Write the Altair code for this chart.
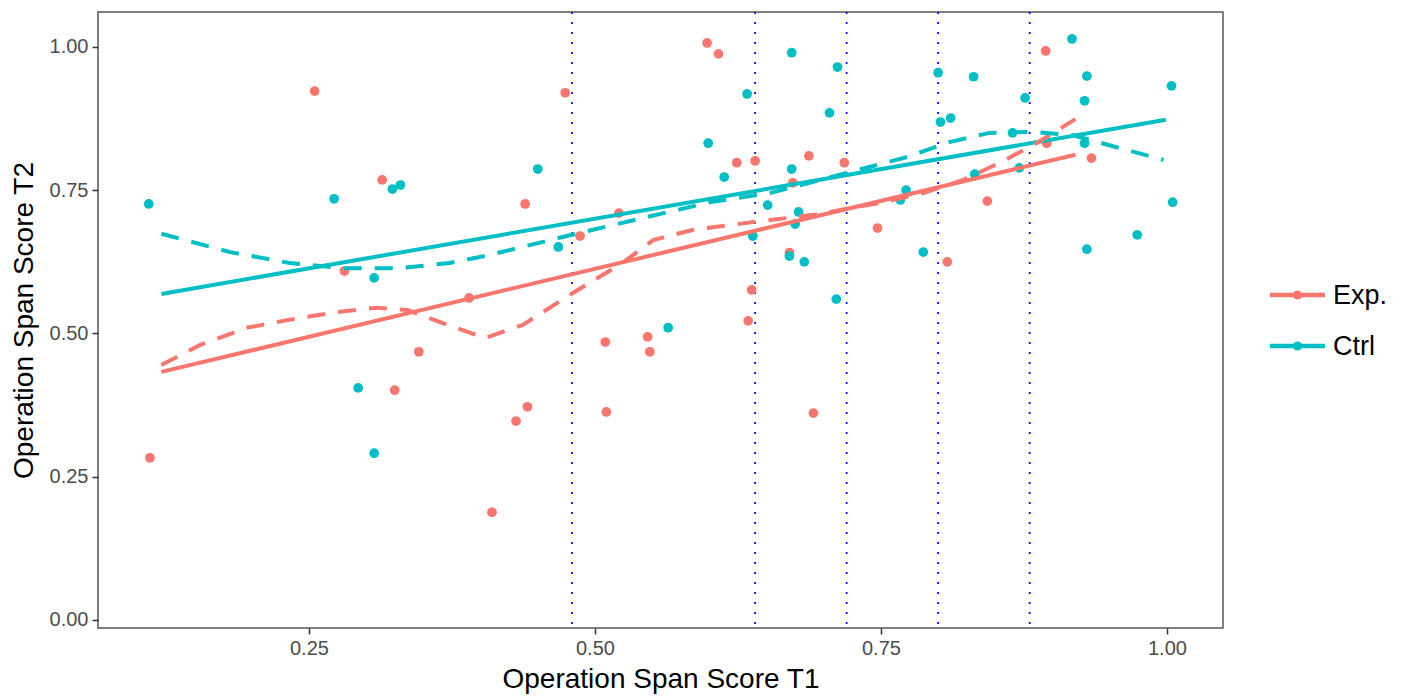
import altair as alt
import pandas as pd

# Group labels and colours
groups = ["Exp.", "Ctrl"]
colors = ["#F8766D", "#00BFC4"]

# Experimental group scores (T1, T2)
exp_t1 = [0.111, 0.255, 0.281, 0.314, 0.325, 0.346, 0.390, 0.410, 0.431, 0.441,
          0.439, 0.474, 0.487, 0.509, 0.510, 0.521, 0.546, 0.548, 0.598, 0.608,
          0.624, 0.640, 0.637, 0.634, 0.673, 0.670, 0.687, 0.691, 0.718, 0.747,
          0.808, 0.843, 0.894, 0.895, 0.934]
exp_t2 = [0.283, 0.923, 0.609, 0.768, 0.401, 0.468, 0.562, 0.188, 0.347, 0.372,
          0.726, 0.920, 0.670, 0.485, 0.363, 0.710, 0.494, 0.468, 1.007, 0.988,
          0.798, 0.801, 0.576, 0.522, 0.763, 0.641, 0.810, 0.361, 0.798, 0.684,
          0.625, 0.731, 0.993, 0.832, 0.806]

# Control group scores (T1, T2)
ctrl_t1 = [0.110, 0.272, 0.323, 0.330, 0.307, 0.293, 0.307, 0.450, 0.468, 0.564,
           0.599, 0.613, 0.633, 0.638, 0.651, 0.672, 0.672, 0.678, 0.675, 0.670,
           0.683, 0.705, 0.712, 0.711, 0.800, 0.802, 0.811, 0.831, 0.832, 0.772,
           0.767, 0.787, 0.865, 0.871, 0.876, 0.917, 0.930, 0.928, 0.928, 0.930,
           0.974, 1.004, 1.005]
ctrl_t2 = [0.726, 0.735, 0.752, 0.759, 0.597, 0.405, 0.291, 0.787, 0.651, 0.510,
           0.832, 0.773, 0.918, 0.670, 0.724, 0.990, 0.787, 0.712, 0.691, 0.635,
           0.625, 0.885, 0.965, 0.560, 0.955, 0.869, 0.876, 0.948, 0.778, 0.750,
           0.733, 0.642, 0.850, 0.789, 0.911, 1.014, 0.949, 0.906, 0.832, 0.647,
           0.672, 0.932, 0.729]

# Linear fits (end points)
exp_fit_x = [0.121, 0.920]
exp_fit_y = [0.433, 0.812]
ctrl_fit_x = [0.121, 0.999]
ctrl_fit_y = [0.569, 0.873]

# Local (loess) smooths
exp_smooth_x = [0.121, 0.155, 0.196, 0.233, 0.277, 0.309, 0.336, 0.371, 0.404, 0.437,
                0.481, 0.524, 0.551, 0.586, 0.633, 0.691, 0.752, 0.787, 0.822, 0.854,
                0.886, 0.920]
exp_smooth_y = [0.445, 0.480, 0.510, 0.524, 0.538, 0.545, 0.541, 0.515, 0.492, 0.515,
                0.571, 0.623, 0.663, 0.681, 0.693, 0.707, 0.729, 0.745, 0.768, 0.798,
                0.832, 0.874]
ctrl_smooth_x = [0.121, 0.181, 0.233, 0.280, 0.330, 0.373, 0.408, 0.469, 0.545, 0.603,
                 0.653, 0.720, 0.773, 0.810, 0.845, 0.883, 0.918, 0.956, 0.997]
ctrl_smooth_y = [0.674, 0.642, 0.623, 0.614, 0.614, 0.623, 0.637, 0.667, 0.703, 0.730,
                 0.745, 0.780, 0.808, 0.834, 0.850, 0.852, 0.846, 0.825, 0.803]

# Cut points marked with vertical dotted lines
cuts = [0.48, 0.64, 0.72, 0.80, 0.88]

x_ticks = [0.25, 0.50, 0.75, 1.00]
y_ticks = [0.00, 0.25, 0.50, 0.75, 1.00]

FONT = "Liberation Sans"
W, H = 1125, 616
PAD_L, PAD_T = 98, 12


def frame(xs, ys, g):
    return pd.DataFrame({"t1": xs, "t2": ys, "group": g})


pts = pd.concat([frame(exp_t1, exp_t2, groups[0]), frame(ctrl_t1, ctrl_t2, groups[1])])
fits = pd.concat([frame(exp_fit_x, exp_fit_y, groups[0]), frame(ctrl_fit_x, ctrl_fit_y, groups[1])])
smooths = pd.concat([frame(exp_smooth_x, exp_smooth_y, groups[0]),
                     frame(ctrl_smooth_x, ctrl_smooth_y, groups[1])])
cut_df = pd.DataFrame({"cut": cuts})

xscale = alt.Scale(domain=[0.0656, 1.049], nice=False, zero=False)
yscale = alt.Scale(domain=[-0.014, 1.061], nice=False, zero=False)
cscale = alt.Scale(domain=groups, range=colors)

axis_common = dict(grid=False, domain=False, format=".2f", tickColor="#333333",
                   tickSize=6, tickWidth=1.5, labelFontSize=20, labelColor="#4d4d4d",
                   labelFont=FONT, titleFont=FONT, titleFontSize=28, titleColor="#000000",
                   titleFontWeight="normal")

X = alt.X("t1:Q", scale=xscale,
          axis=alt.Axis(values=x_ticks, labelPadding=4, titlePadding=7, **axis_common),
          title="Operation Span Score T1")
Y = alt.Y("t2:Q", scale=yscale,
          axis=alt.Axis(values=y_ticks, labelPadding=4, titlePadding=11, **axis_common),
          title="Operation Span Score T2")
C = alt.Color("group:N", scale=cscale, legend=None)

vlines = alt.Chart(cut_df).mark_rule(color="blue", strokeDash=[2, 8], strokeWidth=1.7).encode(
    x=alt.X("cut:Q", scale=xscale))

points = alt.Chart(pts).mark_circle(size=95, opacity=1).encode(x=X, y=Y, color=C)

fit_lines = alt.Chart(fits).mark_line(strokeWidth=4).encode(
    x=alt.X("t1:Q", scale=xscale), y=alt.Y("t2:Q", scale=yscale), color=C, detail="group:N")

smooth_lines = alt.Chart(smooths).mark_line(strokeWidth=4, strokeDash=[18, 13]).encode(
    x=alt.X("t1:Q", scale=xscale), y=alt.Y("t2:Q", scale=yscale), color=C, detail="group:N")

# Legend drawn beside the panel
legend_layers = []
for i, (g, c) in enumerate(zip(groups, colors)):
    ly = 283 + i * 51
    one = pd.DataFrame({"label": [g]})
    legend_layers.append(alt.Chart(one).mark_rule(color=c, strokeWidth=4.5).encode(
        x=alt.value(1172), x2=alt.value(1227), y=alt.value(ly)))
    legend_layers.append(alt.Chart(one).mark_circle(color=c, size=85, opacity=1).encode(
        x=alt.value(1199.5), y=alt.value(ly)))
    legend_layers.append(alt.Chart(one).mark_text(
        align="left", baseline="middle", font=FONT, fontSize=27, color="#000000").encode(
        x=alt.value(1235), y=alt.value(ly + 1), text="label:N"))

chart = alt.layer(vlines, points, fit_lines, smooth_lines, *legend_layers).properties(
    width=W, height=H,
    autosize=alt.AutoSizeParams(type="none"),
    padding={"left": PAD_L, "top": PAD_T, "right": 1402 - PAD_L - W, "bottom": 697 - PAD_T - H},
    background="white",
).configure_view(stroke="#555555", strokeWidth=1.5)

chart.save("out.html", embed_options={"renderer": "svg", "actions": False})
